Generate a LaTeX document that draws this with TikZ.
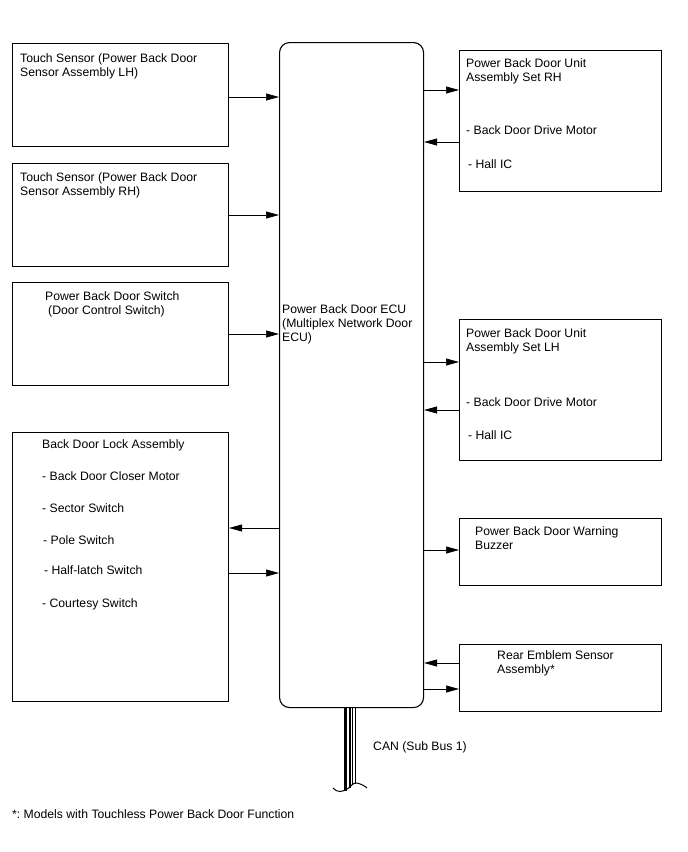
\documentclass[tikz,border=0pt]{standalone}
\usepackage{fontspec}
\setmainfont{Liberation Sans}
\usetikzlibrary{arrows.meta}
\frenchspacing
\begin{document}
\begin{tikzpicture}[x=1pt,y=-1pt,
  box/.style={draw,line width=1.1pt},
  lbl/.style={anchor=north west,inner sep=0pt,align=left,font=\fontsize{12.2}{14.2}\selectfont},
  conn/.style={line width=0.7pt,-{Triangle[length=13pt,width=7pt]}}]
\useasboundingbox (0,0) rectangle (688,852);
% boxes
\node[box,minimum width=216pt,minimum height=103pt,anchor=north west] (tlh) at (12,43) {};
\node[box,minimum width=216pt,minimum height=103pt,anchor=north west] (trh) at (12,163) {};
\node[box,minimum width=216pt,minimum height=103pt,anchor=north west] (sw) at (12,282) {};
\node[box,minimum width=216pt,minimum height=269pt,anchor=north west] (lock) at (12,432) {};
\node[box,rounded corners=10pt,minimum width=144pt,minimum height=665pt,anchor=north west] (ecu) at (279,42) {};
\node[box,minimum width=202pt,minimum height=141pt,anchor=north west] (urh) at (459,50) {};
\node[box,minimum width=202pt,minimum height=141pt,anchor=north west] (ulh) at (459,319) {};
\node[box,minimum width=202pt,minimum height=67pt,anchor=north west] (buz) at (459,518) {};
\node[box,minimum width=202pt,minimum height=67pt,anchor=north west] (emb) at (459,644) {};
% texts
\node[lbl] (t1) at (20,53) {Touch Sensor (Power Back Door\\Sensor Assembly LH)};
\node[lbl] (t2) at (20,172) {Touch Sensor (Power Back Door\\Sensor Assembly RH)};
\node[lbl] (t3) at (45,291) {Power Back Door Switch\\\hspace*{3pt}(Door Control Switch)};
\node[lbl] (t4) at (42,439) {Back Door Lock Assembly};
\node[lbl] (t5) at (42,471) {- Back Door Closer Motor};
\node[lbl] (t6) at (42,503) {- Sector Switch};
\node[lbl] (t7) at (43,535) {- Pole Switch};
\node[lbl] (t8) at (44,565) {- Half-latch Switch};
\node[lbl] (t9) at (42,598) {- Courtesy Switch};
\node[lbl] (t10) at (282,304) {Power Back Door ECU\\(Multiplex Network Door\\ECU)};
\node[lbl] (t11) at (466,58) {Power Back Door Unit\\Assembly Set RH};
\node[lbl] (t12) at (466,125) {- Back Door Drive Motor};
\node[lbl] (t13) at (468,159) {- Hall IC};
\node[lbl] (t14) at (466,328) {Power Back Door Unit\\Assembly Set LH};
\node[lbl] (t15) at (466,397) {- Back Door Drive Motor};
\node[lbl] (t16) at (468,430) {- Hall IC};
\node[lbl] (t17) at (475,526) {Power Back Door Warning\\Buzzer};
\node[lbl] (t18) at (497,650) {Rear Emblem Sensor\\Assembly*};
\node[lbl] (t19) at (373,741) {CAN (Sub Bus 1)};
\node[lbl] (t20) at (12,809) {*: Models with Touchless Power Back Door Function};
% connectors
\draw[conn] (tlh.east |- 0,97) -- (ecu.west |- 0,97);
\draw[conn] (trh.east |- 0,215) -- (ecu.west |- 0,215);
\draw[conn] (sw.east |- 0,334) -- (ecu.west |- 0,334);
\draw[conn] (ecu.west |- 0,528) -- (lock.east |- 0,528);
\draw[conn] (lock.east |- 0,573) -- (ecu.west |- 0,573);
\draw[conn] (ecu.east |- 0,90) -- (urh.west |- 0,90);
\draw[conn] (urh.west |- 0,142) -- (ecu.east |- 0,142);
\draw[conn] (ecu.east |- 0,362) -- (ulh.west |- 0,362);
\draw[conn] (ulh.west |- 0,410) -- (ecu.east |- 0,410);
\draw[conn] (ecu.east |- 0,550) -- (buz.west |- 0,550);
\draw[conn] (emb.west |- 0,663) -- (ecu.east |- 0,663);
\draw[conn] (ecu.east |- 0,689) -- (emb.west |- 0,689);
% CAN bus
\coordinate (c1) at (345.4,790.5);
\coordinate (c2) at (350,787.5);
\coordinate (c3) at (352.7,785);
\coordinate (c4) at (355.5,783.5);
\draw[line width=2.2pt] (ecu.south -| c1) -- (c1);
\draw[line width=1.2pt] (ecu.south -| c2) -- (c2);
\draw[line width=1.2pt] (ecu.south -| c3) -- (c3);
\draw[line width=1.8pt] (ecu.south -| c4) -- (c4);
\coordinate (w1) at (333,788);
\coordinate (w2) at (367,788);
\draw[line width=1pt] (w1) .. controls (337,793) and (343,792) .. (348,788.5) .. controls (351,786) and (354,782) .. (357,783) .. controls (361,784) and (365,786) .. (w2);
\end{tikzpicture}
\end{document}
